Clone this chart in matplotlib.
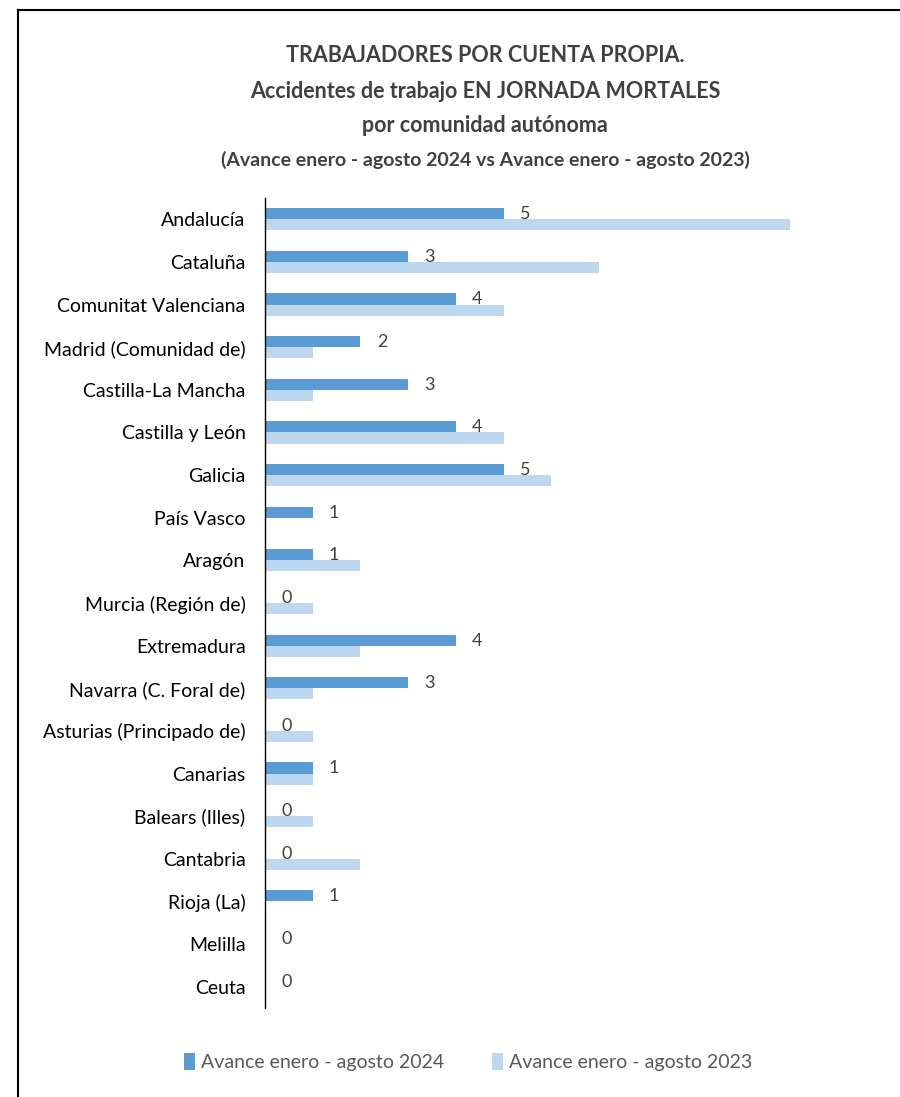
import matplotlib
matplotlib.use("Agg")
import matplotlib.pyplot as plt
from matplotlib.lines import Line2D
import numpy as np

plt.rcParams['font.family'] = ['Lato', 'DejaVu Sans']

categories = ["Andalucía", "Cataluña", "Comunitat Valenciana", "Madrid (Comunidad de)",
              "Castilla-La Mancha", "Castilla y León", "Galicia", "País Vasco", "Aragón",
              "Murcia (Región de)", "Extremadura", "Navarra (C. Foral de)",
              "Asturias (Principado de)", "Canarias", "Balears (Illes)", "Cantabria",
              "Rioja (La)", "Melilla", "Ceuta"]
values_2024 = [5, 3, 4, 2, 3, 4, 5, 1, 1, 0, 4, 3, 0, 1, 0, 0, 1, 0, 0]
values_2023 = [11, 7, 5, 1, 1, 5, 6, 0, 2, 1, 2, 1, 1, 1, 1, 2, 0, 0, 0]
series_names = ["Avance enero - agosto 2024", "Avance enero - agosto 2023"]
title_lines = ["TRABAJADORES POR CUENTA PROPIA.",
               "Accidentes de trabajo EN JORNADA MORTALES",
               "por comunidad autónoma",
               "(Avance enero - agosto 2024 vs Avance enero - agosto 2023)"]

W, H = 900, 1097
fig = plt.figure(figsize=(W/100, H/100), dpi=100)
ax = fig.add_axes([265/W, 1-1008/H, (840-265)/W, (1008-198)/H])

y = np.arange(len(categories))
bh = 0.26
c24 = "#5B9BD5"
c23 = "#BDD7EE"
ax.barh(y - bh/2, values_2024, height=bh, color=c24, label=series_names[0])
ax.barh(y + bh/2, values_2023, height=bh, color=c23, label=series_names[1])

for yi, v in zip(y, values_2024):
    ax.text(v + 0.45, yi - 0.12, str(v), ha='center', va='center', fontsize=13, color="#404040")

ax.set_ylim(len(categories) - 0.5, -0.5)
ax.set_xlim(0, 12.05)
ax.set_yticks(y)
ax.set_yticklabels(categories, fontsize=14, color="#000000")
ax.tick_params(axis='y', length=0, pad=14)
ax.set_xticks([])
for s in ['top', 'right', 'bottom']:
    ax.spines[s].set_visible(False)
ax.spines['left'].set_color("#000000")
ax.spines['left'].set_linewidth(1.0)

ys = [55, 92, 126, 160]
sizes = [15.5, 15.5, 15.5, 14]
for t, yy, fs in zip(title_lines, ys, sizes):
    fig.text(485/W, 1-yy/H, t, ha='center', va='center', fontsize=fs,
             fontweight='bold', color="#404040")

leg = fig.legend(loc='center', bbox_to_anchor=(468/W, 1-1062/H), ncol=2, frameon=False,
                 fontsize=14, handlelength=0.55, handleheight=1.0, handletextpad=0.3,
                 columnspacing=2.5)
for t in leg.get_texts():
    t.set_color("#595959")

fig.add_artist(Line2D([18/W, 1.0], [1-10/H, 1-10/H], color='black', lw=1.5, transform=fig.transFigure))
fig.add_artist(Line2D([18/W, 18/W], [1-10/H, 0], color='black', lw=1.5, transform=fig.transFigure))

fig.savefig("out.png", dpi=100)
